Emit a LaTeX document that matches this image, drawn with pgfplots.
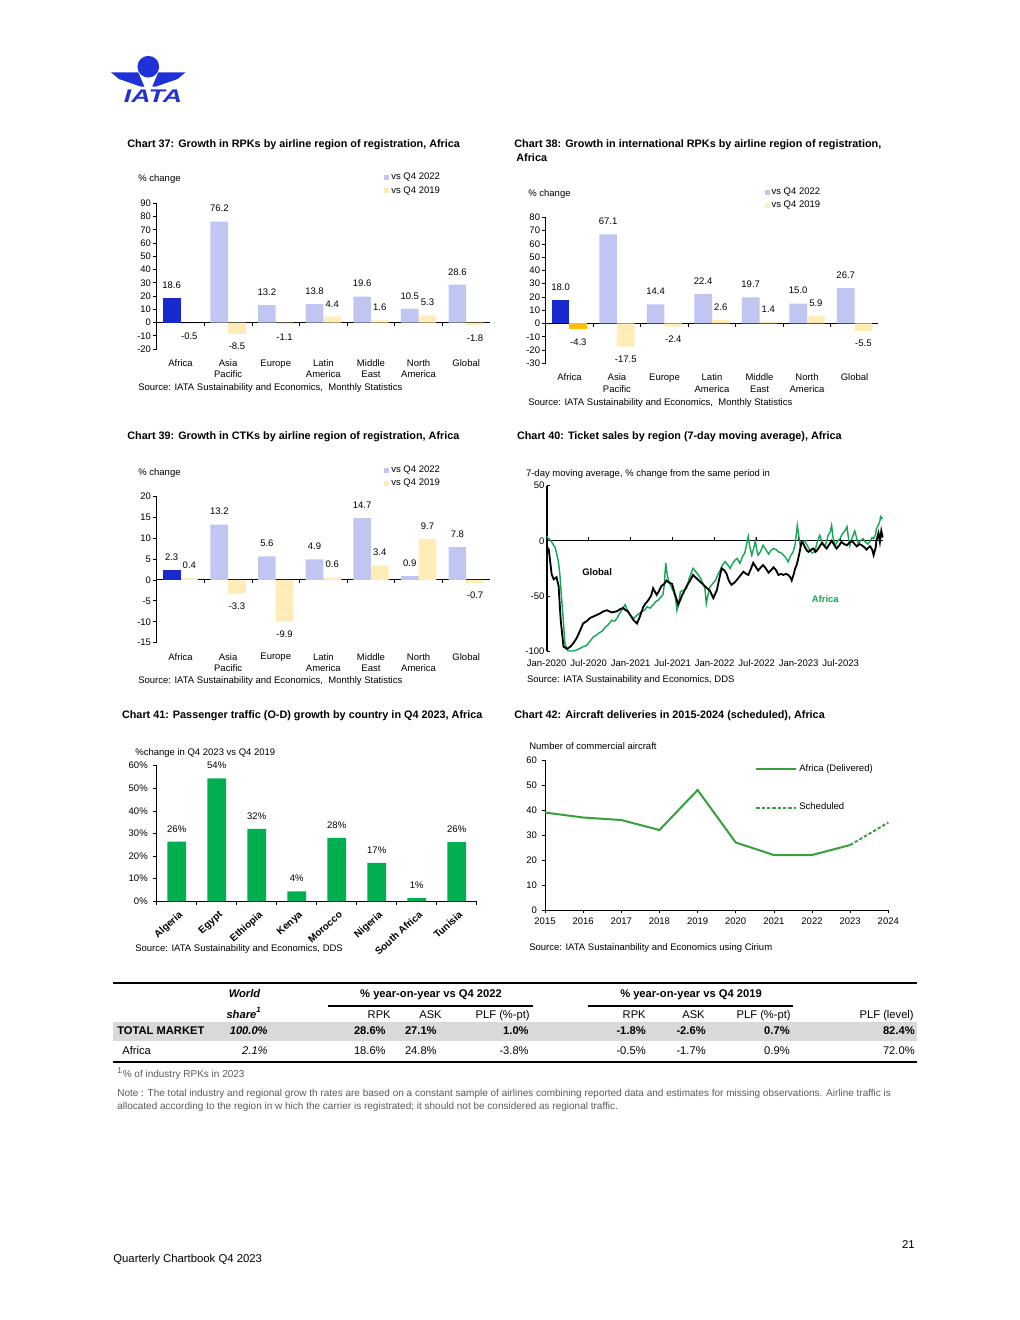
\documentclass[border=0pt]{standalone}
\usepackage{fontspec}
\setmainfont{Liberation Sans}
\usepackage{pgfplots}
\pgfplotsset{compat=1.18}

\definecolor{iblue}{RGB}{30,50,215}
\definecolor{abar}{RGB}{22,42,205}
\definecolor{lav}{RGB}{192,197,242}
\definecolor{lyel}{RGB}{255,236,182}
\definecolor{aorange}{RGB}{255,190,0}
\definecolor{gbar}{RGB}{0,176,80}
\definecolor{gline}{RGB}{20,165,85}
\definecolor{gdel}{RGB}{55,160,60}
\definecolor{tgrey}{RGB}{217,217,217}
\definecolor{notegrey}{RGB}{90,90,90}

\newcommand\fs{\fontsize{5.7pt}{6.8pt}\selectfont}
\newcommand\ft{\fontsize{6.5pt}{8.4pt}\selectfont\bfseries}
\newcommand\ftab{\fontsize{6.7pt}{8pt}\selectfont}
\newcommand\fn{\fontsize{6pt}{7.5pt}\selectfont}

\pgfplotsset{
  common/.style={
    scale only axis, clip=false,
    axis lines*=left,
    axis line style={black, line width=0.4pt},
    tick style={black, line width=0.4pt},
    tick align=outside,
    major tick length=2pt,
    tick label style={font=\fs, inner sep=1.2pt},
    /pgf/number format/assume math mode=true,
  },
  barchart/.style={
    common,
    x axis line style={draw=none},
    xtick style={draw=none},
    xmin=-0.5, xmax=6.5,
    xtick={0,...,6},
    xticklabels={Africa,{Asia\\Pacific},Europe,{Latin\\America},{Middle\\East},{North\\America},Global},
    xticklabel style={align=center, anchor=north, yshift=-3pt},
    ybar=0pt, bar width=10.6pt,
    nodes near coords={\pgfmathprintnumber[fixed,fixed zerofill,precision=1,assume math mode=true]{\pgfplotspointmeta}},
    nodes near coords align=vertical,
    every node near coord/.append style={font=\fs, black, inner sep=5.5pt},
    legend image code/.code={\fill[##1] (0pt,-1.5pt) rectangle (3pt,1.5pt);},
    legend style={draw=none, fill=none, font=\fs, anchor=north west, inner sep=0pt, row sep=0pt, nodes={inner sep=1.2pt}},
    legend cell align=left,
  },
}

\begin{document}
\begin{tikzpicture}
\useasboundingbox (0,0) rectangle (612pt,-792pt);

%================ Chart 37
\begin{axis}[barchart, at={(94.02pt,-209.4pt)}, anchor=south west,
  width=200pt, height=87.42pt, ymin=-20, ymax=90, ytick={-20,-10,...,90},
  legend style={at={(rel axis cs:0.682,1.222)}}]
\draw[black, line width=0.5pt] (axis cs:-0.5,0) -- (axis cs:6.5,0);
\pgfplotsinvokeforeach{0.5,1.5,2.5,3.5,4.5,5.5}{\draw[black, line width=0.4pt] (axis cs:#1,0) -- ++(0pt,-2pt);}
\addplot[fill=lav, draw=none, bar shift=-5.3pt] coordinates {(1,76.2) (2,13.2) (3,13.8) (4,19.6) (5,10.5) (6,28.6)};
\addplot[fill=lyel, draw=none, bar shift=5.3pt] coordinates {(1,-8.5) (2,-1.1) (3,4.4) (4,1.6) (5,5.3) (6,-1.8)};
\addplot[fill=abar, draw=none, bar shift=-5.3pt, forget plot] coordinates {(0,18.6)};
\addplot[fill=lyel, draw=none, bar shift=5.3pt, forget plot] coordinates {(0,-0.5)};
\legend{vs Q4 2022, vs Q4 2019}
\end{axis}

%================ Chart 38
\begin{axis}[barchart, at={(327.42pt,-217.98pt)}, anchor=south west,
  width=199.56pt, height=87.6pt, ymin=-30, ymax=80, ytick={-30,-20,...,80},
  legend style={at={(rel axis cs:0.657,1.219)}}]
\draw[black, line width=0.5pt] (axis cs:-0.5,0) -- (axis cs:6.5,0);
\pgfplotsinvokeforeach{0.5,1.5,2.5,3.5,4.5,5.5}{\draw[black, line width=0.4pt] (axis cs:#1,0) -- ++(0pt,-2pt);}
\addplot[fill=lav, draw=none, bar shift=-5.3pt] coordinates {(1,67.1) (2,14.4) (3,22.4) (4,19.7) (5,15.0) (6,26.7)};
\addplot[fill=lyel, draw=none, bar shift=5.3pt] coordinates {(1,-17.5) (2,-2.4) (3,2.6) (4,1.4) (5,5.9) (6,-5.5)};
\addplot[fill=abar, draw=none, bar shift=-5.3pt, forget plot] coordinates {(0,18.0)};
\addplot[fill=aorange, draw=none, bar shift=5.3pt, forget plot] coordinates {(0,-4.3)};
\legend{vs Q4 2022, vs Q4 2019}
\end{axis}

%================ Chart 39
\begin{axis}[barchart, at={(94.02pt,-385.62pt)}, anchor=south west,
  width=200pt, height=88.02pt, ymin=-15, ymax=20, ytick={-15,-10,...,20},
  legend style={at={(rel axis cs:0.682,1.22)}}]
\draw[black, line width=0.5pt] (axis cs:-0.5,0) -- (axis cs:6.5,0);
\pgfplotsinvokeforeach{0.5,1.5,2.5,3.5,4.5,5.5}{\draw[black, line width=0.4pt] (axis cs:#1,0) -- ++(0pt,-2pt);}
\addplot[fill=lav, draw=none, bar shift=-5.3pt] coordinates {(1,13.2) (2,5.6) (3,4.9) (4,14.7) (5,0.9) (6,7.8)};
\addplot[fill=lyel, draw=none, bar shift=5.3pt] coordinates {(1,-3.3) (2,-9.9) (3,0.6) (4,3.4) (5,9.7) (6,-0.7)};
\addplot[fill=abar, draw=none, bar shift=-5.3pt, forget plot] coordinates {(0,2.3)};
\addplot[fill=lyel, draw=none, bar shift=5.3pt, forget plot] coordinates {(0,0.4)};
\legend{vs Q4 2022, vs Q4 2019}
\end{axis}

%================ Chart 40
\begin{axis}[common, at={(328.02pt,-390.6pt)}, anchor=south west,
  width=201.6pt, height=99.18pt, xmin=0, xmax=48, ymin=-100, ymax=50,
  x axis line style={draw=none}, xtick style={draw=none},
  y axis line style={line width=1.1pt},
  ytick={-100,-50,0,50}, tick align=inside,
  xtick={0,6,...,42},
  xticklabels={Jan-2020,Jul-2020,Jan-2021,Jul-2021,Jan-2022,Jul-2022,Jan-2023,Jul-2023},
  xticklabel style={anchor=north, yshift=-3.8pt}]
\draw[black, line width=0.8pt] (axis cs:0,0) -- (axis cs:48,0);
\pgfplotsinvokeforeach{6,12,18,24,30,36,42}{\draw[black, line width=0.6pt] (axis cs:#1,0) -- ++(0pt,2pt);}
\addplot[gline, line width=0.85pt, mark=none] coordinates {
(0,4) (0.2,2.5) (0.6,0) (0.95,-3.6) (1.2,-6) (1.4,-11) (1.7,-20) (1.9,-32) (2.1,-50) (2.3,-66) (2.6,-93) (2.9,-99)
(3.3,-100) (3.8,-100) (4.3,-99) (4.8,-97.5) (5.2,-96) (5.7,-95) (6.2,-91) (6.7,-87) (7.0,-86) (7.4,-84) (7.9,-82)
(8.3,-79) (8.8,-76) (9.3,-72) (9.7,-73) (10.0,-70.6) (10.4,-66) (10.7,-63) (11.0,-60) (11.2,-58) (11.6,-64) (12.1,-69)
(12.5,-70) (12.9,-67.5) (13.2,-66) (13.6,-64) (14.0,-63) (14.3,-60) (14.8,-61) (15.2,-58) (15.6,-55) (15.9,-54)
(16.3,-51) (16.6,-49) (16.8,-40) (17.0,-20) (17.2,-30) (17.4,-36) (17.8,-42) (18.1,-46) (18.4,-52) (18.6,-63)
(18.9,-55) (19.1,-46) (19.5,-45) (20.0,-43) (20.3,-35) (20.6,-30) (20.9,-25) (21.3,-28) (21.9,-33) (22.2,-37)
(22.6,-43) (22.8,-57) (23.0,-50) (23.3,-42) (23.7,-39) (24.1,-36) (24.5,-30) (24.8,-26.5) (25.1,-22) (25.5,-19)
(25.9,-22) (26.2,-25) (26.6,-20) (26.9,-17.5) (27.2,-16) (27.6,-20.4) (28.0,-14) (28.3,-11) (28.6,-2) (28.8,4)
(29.0,-5) (29.3,-13) (29.6,-6) (29.8,0) (30.0,-8) (30.2,-13) (30.6,-9) (30.9,-4) (31.3,-8) (31.7,-12) (32.0,-9)
(32.4,-7) (32.8,-8) (33.1,-10) (33.5,-11) (33.8,-12.7) (34.1,-15) (34.5,-19) (34.8,-14) (35.2,-10) (35.5,-3)
(35.8,14) (36.0,5) (36.2,-4) (36.5,-2) (36.9,0) (37.2,-4) (37.6,-8.5) (37.9,-11) (38.3,-10) (38.6,-2) (39.0,5)
(39.3,-1) (39.8,-4.5) (40.0,0) (40.2,5) (40.5,8) (40.7,14) (40.9,3) (41.2,-4.5) (41.5,-1) (41.9,2) (42.2,6)
(42.6,9) (42.9,12.8) (43.1,3) (43.3,-4.5) (43.6,2) (44.0,9) (44.3,2) (44.5,-3) (44.8,0) (45.2,2) (45.5,-1)
(45.9,-3) (46.2,0) (46.5,3) (46.7,2) (47.0,6) (47.1,11) (47.4,14.5) (47.6,18) (47.7,22) (48.0,20)};
\addplot[black, line width=1.1pt, mark=none] coordinates {
(0,-5) (0.3,-8) (0.7,-30) (1.0,-35) (1.4,-33) (1.7,-41) (2.0,-72) (2.4,-96) (2.9,-98) (3.4,-96) (3.8,-93)
(4.3,-88) (4.8,-81) (5.2,-75) (5.7,-73) (6.2,-70) (6.9,-68) (7.6,-66) (8.1,-64) (8.6,-63) (9.3,-65) (10.0,-64)
(10.5,-62) (10.9,-61) (11.3,-63) (11.6,-64) (12.0,-68) (12.4,-72) (12.9,-75) (13.3,-69) (13.8,-60) (14.1,-57)
(14.5,-54) (14.9,-50) (15.2,-43) (15.7,-49) (16.0,-46) (16.4,-41) (16.8,-39) (17.1,-36) (17.5,-38) (17.9,-39)
(18.3,-48) (18.8,-58) (19.3,-50) (19.7,-45) (20.0,-41) (20.5,-36) (20.9,-31) (21.4,-34) (21.9,-37) (22.4,-40)
(22.9,-43) (23.3,-45) (23.8,-52) (24.3,-45) (24.7,-33) (25.0,-25) (25.4,-27) (25.7,-30) (26.0,-36) (26.4,-40)
(26.8,-38) (27.1,-36) (27.6,-32) (28.1,-28) (28.5,-30) (28.8,-31) (29.2,-25) (29.5,-20) (29.9,-24) (30.2,-27)
(30.6,-24) (30.9,-22) (31.3,-25) (31.7,-29) (32.0,-27) (32.4,-24) (32.8,-27) (33.1,-31) (33.5,-30) (33.8,-31)
(34.2,-30) (34.5,-31) (34.8,-33) (35.0,-36) (35.3,-30) (35.5,-25) (35.7,-22) (35.9,-17) (36.2,-8) (36.4,-1)
(36.7,-3) (36.9,-6) (37.2,-9) (37.4,-10) (37.8,-8) (38.1,-7) (38.4,-10) (38.6,-9) (39.0,-5) (39.3,-2) (39.7,-5)
(40.0,-7) (40.3,-4) (40.7,0) (41.0,-3) (41.4,-7) (41.8,-4) (42.1,-1) (42.5,-3) (42.9,-4) (43.2,-2) (43.6,0)
(44.0,-3) (44.3,-5) (44.7,-3) (45.0,-4) (45.4,-6) (45.7,-8) (46.0,-6) (46.2,-5) (46.5,-8) (46.7,-13) (47.0,-6)
(47.1,0) (47.4,7) (47.6,-1) (47.8,9) (48.0,3)};
\node[font=\fs\bfseries, text=black] at (axis cs:7.2,-28) {Global};
\node[font=\fs\bfseries, text=gline] at (axis cs:39.8,-52.8) {Africa};
\end{axis}

%================ Chart 41
\begin{axis}[common, at={(94.02pt,-540.78pt)}, anchor=south west,
  width=192pt, height=81.42pt, xmin=-0.5, xmax=7.5, ymin=0, ymax=60,
  ytick={0,10,...,60}, yticklabel={\pgfmathprintnumber{\tick}\%},
  yticklabel style={xshift=-2pt},
  xtick style={draw=none}, xtick={0,...,7},
  xticklabels={Algeria,Egypt,Ethiopia,Kenya,Morocco,Nigeria,South Africa,Tunisia},
  xticklabel style={xshift=1pt, yshift=-1.5pt, rotate=42, anchor=north east, font=\fontsize{6pt}{7pt}\selectfont\bfseries},
  ybar, bar width=11.2pt,
  nodes near coords={\pgfmathprintnumber[fixed,precision=0,assume math mode=true]{\pgfplotspointmeta}\%},
  every node near coord/.append style={font=\fs, black, inner sep=5.5pt}]
\pgfplotsinvokeforeach{-0.5,0.5,1.5,2.5,3.5,4.5,5.5,6.5,7.5}{\draw[black, line width=0.4pt] (axis cs:#1,0) -- ++(0pt,-2pt);}
\addplot[fill=gbar, draw=none, bar shift=0pt] coordinates {(0,26.4) (1,54.4) (2,32.0) (3,4.4) (4,28.0) (5,17.0) (6,1.4) (7,26.2)};
\end{axis}

%================ Chart 42
\begin{axis}[common, at={(327pt,-546pt)}, anchor=south west,
  width=206pt, height=90pt, xmin=2015, xmax=2024, ymin=0, ymax=60,
  xtick={2015,...,2024}, ytick={0,10,...,60},
  /pgf/number format/1000 sep={},
  xticklabel style={yshift=-1.5pt},
  yticklabel style={xshift=-1.5pt},
  legend style={at={(rel axis cs:0.6117,0.985)}, anchor=north west, draw=none, fill=none, font=\fs, inner sep=0pt, row sep=14.9pt, nodes={inner sep=1.2pt}},
  legend cell align=left,
  legend image code/.code={\draw[#1] (0pt,0pt) -- (24pt,0pt);}]
\addplot[gdel, line width=1.2pt, mark=none] coordinates {(2015,39) (2016,37) (2017,36) (2018,32) (2019,48) (2020,27) (2021,22) (2022,22) (2023,26)};
\addplot[gdel, line width=1.2pt, dash pattern=on 2pt off 1.2pt, mark=none] coordinates {(2023,26) (2024,35)};
\legend{Africa (Delivered), Scheduled}
\end{axis}

%================ texts, logo, table
\begin{scope}[x=0.6pt, y=-0.6pt]
% logo
\fill[iblue] (148.3,66.7) circle (6.5pt);
\fill[iblue] (111,72.3) -- (138.3,72.3) -- (144.3,86.5) -- (140.5,86.5) -- (119,79) -- cycle;
\fill[iblue] (185.6,72.3) -- (158.3,72.3) -- (152.3,86.5) -- (156.1,86.5) -- (177.6,79) -- cycle;
\node[text=iblue, font=\fontsize{11pt}{12pt}\selectfont\bfseries\itshape, xscale=1.45, inner sep=0] at (153,95.8) {IATA};

\tikzset{tl/.style={anchor=base west, inner sep=0}}
% chart 37
\node[tl, font=\ft] at (127,147) {Chart 37: Growth in RPKs by airline region of registration, Africa};
\node[tl, font=\fs] at (138,181.4) {\% change};
\node[tl, font=\fs] at (138,390) {Source: IATA Sustainability and Economics,~ Monthly Statistics};
% chart 38
\node[tl, font=\ft] at (514,147.3) {Chart 38: Growth in international RPKs by airline region of registration,};
\node[tl, font=\ft] at (516,161.3) {Africa};
\node[tl, font=\fs] at (528,196) {\% change};
\node[tl, font=\fs] at (528,405) {Source: IATA Sustainability and Economics,~ Monthly Statistics};
% chart 39
\node[tl, font=\ft] at (127,439.7) {Chart 39: Growth in CTKs by airline region of registration, Africa};
\node[tl, font=\fs] at (138,475.7) {\% change};
\node[tl, font=\fs] at (138,683.4) {Source: IATA Sustainability and Economics,~ Monthly Statistics};
% chart 40
\node[tl, font=\ft] at (516.7,439.7) {Chart 40: Ticket sales by region (7-day moving average), Africa};
\node[tl, font=\fs] at (525.7,476.7) {7-day moving average, \% change from the same period in};
\node[tl, font=\fs] at (526.7,682.7) {Source: IATA Sustainability and Economics, DDS};
% chart 41
\node[tl, font=\ft] at (121.7,718.3) {Chart 41: Passenger traffic (O-D) growth by country in Q4 2023, Africa};
\node[tl, font=\fs] at (135,755.7) {\%change in Q4 2023 vs Q4 2019};
\node[tl, font=\fs] at (135,951.7) {Source: IATA Sustainability and Economics, DDS};
% chart 42
\node[tl, font=\ft] at (514,718) {Chart 42: Aircraft deliveries in 2015-2024 (scheduled), Africa};
\node[tl, font=\fs] at (529,749) {Number of commercial aircraft};
\node[tl, font=\fs] at (529,950) {Source: IATA Sustainanbility and Economics using Cirium};

% table
\fill[tgrey] (113,1021.5) rectangle (917,1040.5);
\draw[line width=1.3pt] (113,983) -- (917,983);
\draw[line width=1.3pt] (113,1062) -- (917,1062);
\draw[line width=0.8pt] (328,1006) -- (533,1006);
\draw[line width=0.8pt] (588,1006) -- (793,1006);
\tikzset{tc/.style={anchor=base, inner sep=0, font=\ftab}, tr/.style={anchor=base east, inner sep=0, font=\ftab}}
\node[tc, font=\ftab\bfseries\itshape] at (244.5,997.5) {World};
\node[tc, font=\ftab\bfseries] at (431,997.5) {\% year-on-year vs Q4 2022};
\node[tc, font=\ftab\bfseries] at (691,997.5) {\% year-on-year vs Q4 2019};
\node[tc, font=\ftab\bfseries\itshape] at (244,1018) {share\textsuperscript{1}};
\node[tr] at (391,1018) {RPK};
\node[tr] at (442,1018) {ASK};
\node[tr] at (530,1018) {PLF (\%-pt)};
\node[tr] at (646,1018) {RPK};
\node[tr] at (705,1018) {ASK};
\node[tr] at (791,1018) {PLF (\%-pt)};
\node[tr] at (914,1018) {PLF (level)};
% total row
\node[tl, font=\ftab\bfseries] at (117,1034.5) {TOTAL MARKET};
\node[tr, font=\ftab\bfseries\itshape] at (268,1034.5) {100.0\%};
\node[tr, font=\ftab\bfseries] at (386,1034.5) {28.6\%};
\node[tr, font=\ftab\bfseries] at (437,1034.5) {27.1\%};
\node[tr, font=\ftab\bfseries] at (529,1034.5) {1.0\%};
\node[tr, font=\ftab\bfseries] at (646,1034.5) {-1.8\%};
\node[tr, font=\ftab\bfseries] at (706,1034.5) {-2.6\%};
\node[tr, font=\ftab\bfseries] at (790,1034.5) {0.7\%};
\node[tr, font=\ftab\bfseries] at (915,1034.5) {82.4\%};
% africa row
\node[tl, font=\ftab] at (122,1054.5) {Africa};
\node[tr, font=\ftab\itshape] at (268,1054.5) {2.1\%};
\node[tr] at (386,1054.5) {18.6\%};
\node[tr] at (437,1054.5) {24.8\%};
\node[tr] at (529,1054.5) {-3.8\%};
\node[tr] at (646,1054.5) {-0.5\%};
\node[tr] at (706,1054.5) {-1.7\%};
\node[tr] at (790,1054.5) {0.9\%};
\node[tr] at (915,1054.5) {72.0\%};
% notes
\node[tl, font=\fn, text=notegrey] at (117,1077.6) {\textsuperscript{1}\% of industry RPKs in 2023};
\node[tl, font=\fn, text=notegrey] at (117,1096.6) {Note : The total industry and regional grow th rates are based on a constant sample of airlines combining reported data and estimates for missing observations. Airline traffic is};
\node[tl, font=\fn, text=notegrey] at (117,1109.6) {allocated according to the region in w hich the carrier is registrated; it should not be considered as regional traffic.};
% footer
\node[anchor=base east, inner sep=0, font=\fontsize{6.8pt}{8pt}\selectfont] at (915,1248) {21};
\node[tl, font=\fontsize{6.8pt}{8pt}\selectfont] at (113,1262) {Quarterly Chartbook Q4 2023};
\end{scope}
\end{tikzpicture}
\end{document}
